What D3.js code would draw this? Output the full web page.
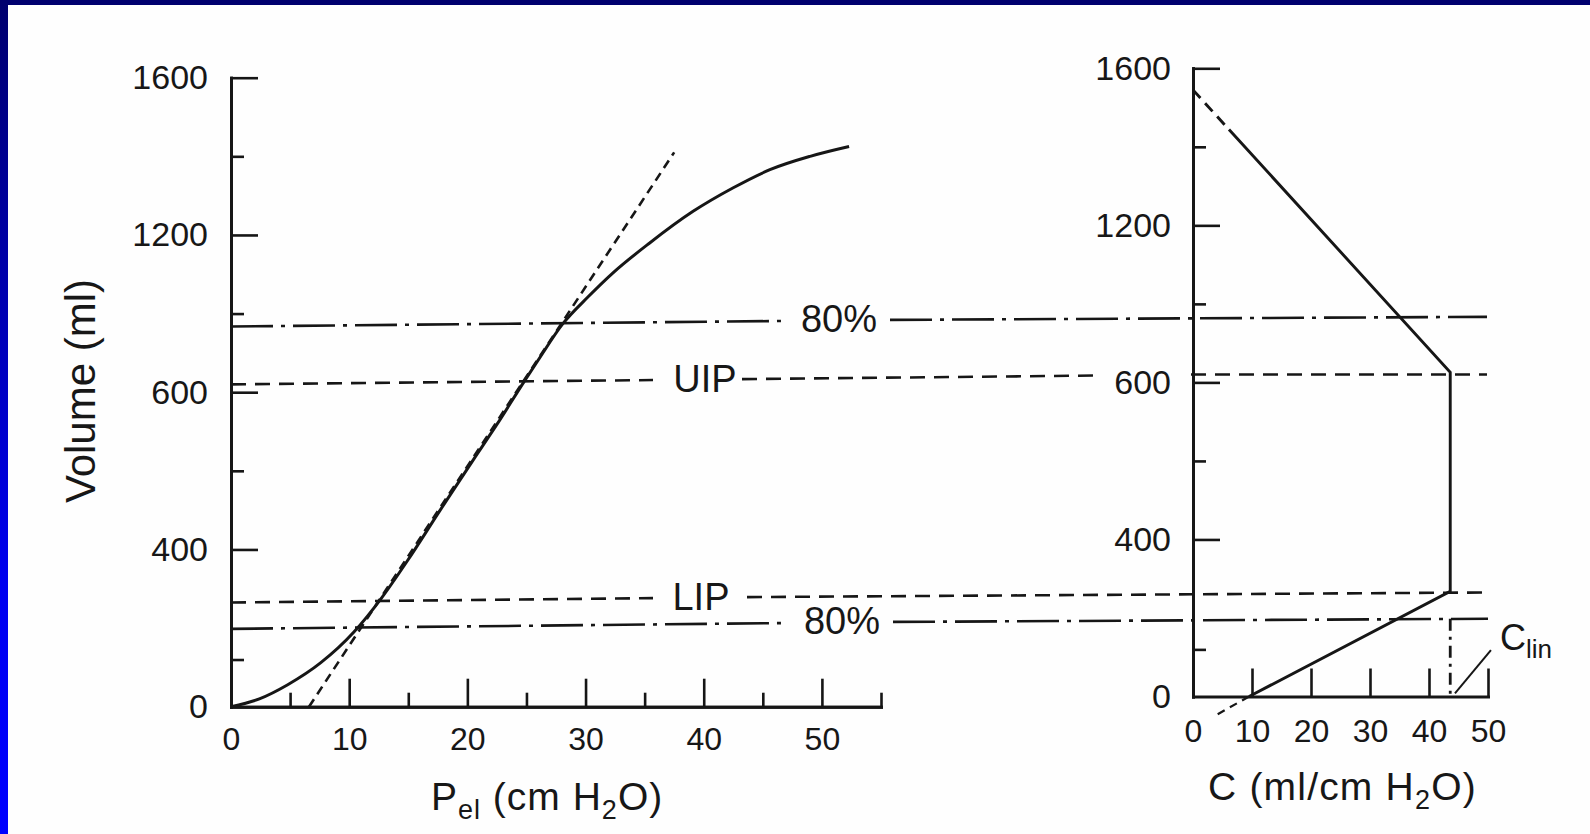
<!DOCTYPE html>
<html>
<head>
<meta charset="utf-8">
<script src="https://cdn.jsdelivr.net/npm/d3@7"></script>
<style>
  html, body { margin: 0; padding: 0; background: #000080; }
  svg { display: block; }
  text { font-family: "Liberation Sans", Arial, sans-serif; fill: #171717; }
</style>
</head>
<body>
<svg id="chart" width="1590" height="834"></svg>
<script>
// left panel: pressure-volume curve (P el, cm H2O -> volume, ml)
var pelValues = [0, 2.4, 4.8, 7.6, 10.4, 12.7, 14.9, 17.7, 20.5, 22.5, 24.8, 26, 28.1, 30.2, 32.3, 35.4, 39.1, 42.5, 45.6, 49, 52.3];
var volValues = [0, 20, 56, 112, 190, 275, 370, 500, 628, 718, 827, 882, 975, 1042, 1103, 1179, 1260, 1320, 1366, 1400, 1425];

// dashed tangent over the linear part
var tangentPel = [6.6, 37.5];
var tangentVol = [0, 1410];

// right panel: compliance profile (C, ml/cm H2O -> volume)
var compC   = [6.1, 43.6, 43.6, 9.5];
var compVol = [1444, 826, 268, 0];
var compTopC = [0, 6.1],  compTopVol = [1545, 1444];   // dashed extrapolation
var compBotC = [9.5, 3.6], compBotVol = [0, -50];
var clinValue = 43.6;

// horizontal reference levels
var refNames   = ["80%", "UIP", "LIP", "80%"];
var refVolumes = [967, 820, 265, 198];
var refDashed  = ["dashdot", "dash", "dash", "dashdot"];

// tick values / labels (as printed)
var volMajor  = [0, 400, 800, 1200, 1600];
var volLabels = ["0", "400", "600", "1200", "1600"];
var volMinor  = [120, 600, 1000, 1400];
var pelMajor  = [10, 20, 30, 40, 50];
var pelMinor  = [5, 15, 25, 35, 45, 55];
var pelLabels = [0, 10, 20, 30, 40, 50];
var compMajor = [10, 20, 30, 40, 50];
var compLabels = [0, 10, 20, 30, 40, 50];

var DASH = "15,9";
var DASHDOT = "42,8,4,8";
var INK = "#161616";

var svg = d3.select("#chart");

// slide frame: blue gradient behind a scanned white page
var defs = svg.append("defs");
var grad = defs.append("linearGradient").attr("id", "bg").attr("x1", 0).attr("y1", 0).attr("x2", 0).attr("y2", 1);
grad.append("stop").attr("offset", "0%").attr("stop-color", "#00006e");
grad.append("stop").attr("offset", "70%").attr("stop-color", "#0000f0");
grad.append("stop").attr("offset", "100%").attr("stop-color", "#0000ff");
svg.append("rect").attr("width", 1590).attr("height", 834).attr("fill", "url(#bg)");
svg.append("rect").attr("x", 8).attr("y", 5).attr("width", 1582).attr("height", 829).attr("fill", "#fefefe");

// scales
var xL = d3.scaleLinear().domain([0, 55]).range([231, 881]);
var yL = d3.scaleLinear().domain([0, 1600]).range([706.7, 77.7]);
var xR = d3.scaleLinear().domain([0, 50]).range([1193, 1488]);
var yR = d3.scaleLinear().domain([0, 1600]).range([696.5, 68.3]);

function styleAxis(g, fontSize) {
  g.select(".domain").attr("stroke", INK).attr("stroke-width", 3).attr("stroke-linecap", "square");
  g.selectAll(".tick line").attr("stroke", INK).attr("stroke-width", 2.6);
  g.selectAll("text").attr("font-size", fontSize).attr("fill", INK)
    .attr("font-family", '"Liberation Sans", Arial, sans-serif');
  g.attr("font-family", null).attr("font-size", null);
}

function drawAxes(xs, ys, xMajor, xMinor, xLabels, xPad, yPad) {
  var x0 = xs.range()[0], y0 = ys.range()[0];

  var ya = svg.append("g").attr("transform", "translate(" + x0 + ",0)")
    .call(d3.axisRight(ys).tickValues(volMajor.slice(1)).tickSize(27).tickSizeOuter(0).tickFormat(""));
  styleAxis(ya, 33);
  var ym = svg.append("g").attr("transform", "translate(" + x0 + ",0)")
    .call(d3.axisRight(ys).tickValues(volMinor).tickSize(13).tickSizeOuter(0).tickFormat(""));
  styleAxis(ym, 33);
  var yl = svg.append("g").attr("transform", "translate(" + x0 + ",0)")
    .call(d3.axisLeft(ys).tickValues(volMajor).tickSize(0).tickPadding(yPad)
      .tickFormat(function (d, i) { return volLabels[i]; }));
  yl.select(".domain").remove();
  styleAxis(yl, 34);

  var xa = svg.append("g").attr("transform", "translate(0," + y0 + ")")
    .call(d3.axisTop(xs).tickValues(xMajor).tickSize(28).tickSizeOuter(0).tickFormat(""));
  styleAxis(xa, 32);
  if (xMinor.length) {
    var xm = svg.append("g").attr("transform", "translate(0," + y0 + ")")
      .call(d3.axisTop(xs).tickValues(xMinor).tickSize(14).tickSizeOuter(0).tickFormat(""));
    styleAxis(xm, 32);
  }
  var xl = svg.append("g").attr("transform", "translate(0," + y0 + ")")
    .call(d3.axisBottom(xs).tickValues(xLabels).tickSize(0).tickPadding(xPad));
  xl.select(".domain").remove();
  styleAxis(xl, 32);
}

drawAxes(xL, yL, pelMajor, pelMinor, pelLabels, 21, 23);
drawAxes(xR, yR, compMajor, [], compLabels, 23, 22);

// reference lines run across both panels (the scan is slightly tilted)
function yAt(v, px) {
  var a = yL(v), b = yR(v);
  if (px <= 231) return a;
  if (px >= 1193) return b;
  return a + (b - a) * (px - 231) / 962;
}
var refSegments = [
  [[231, 787], [890, 1487]],
  [[231, 653], [742, 1098], [1191, 1487]],
  [[231, 653], [747, 1488]],
  [[231, 787], [893, 1488]]
];
var refLabelX = [839, 705, 701, 842];

refVolumes.forEach(function (v, i) {
  var d = refSegments[i].map(function (s) {
    return "M" + s[0] + "," + yAt(v, s[0]) + "L" + s[1] + "," + yAt(v, s[1]);
  }).join("");
  svg.append("path").attr("d", d).attr("fill", "none").attr("stroke", INK)
    .attr("stroke-width", 2.6)
    .attr("stroke-dasharray", refDashed[i] === "dash" ? DASH : DASHDOT);
  svg.append("text").attr("x", refLabelX[i]).attr("y", yAt(v, refLabelX[i]) + 12)
    .attr("text-anchor", "middle").attr("font-size", 38).text(refNames[i]);
});

// C lin marker: dash-dot drop from the lower 80% level to the axis
svg.append("path")
  .attr("d", "M" + xR(clinValue) + "," + yR(refVolumes[3]) + "V" + yR(0))
  .attr("stroke", INK).attr("stroke-width", 2.8).attr("stroke-dasharray", "12,6,3,6");

// left panel curves
var lineL = d3.line().x(function (d) { return xL(d[0]); }).y(function (d) { return yL(d[1]); });
svg.append("path")
  .datum(d3.zip(pelValues, volValues))
  .attr("d", lineL.curve(d3.curveMonotoneX))
  .attr("fill", "none").attr("stroke", INK).attr("stroke-width", 3);
svg.append("path")
  .datum(d3.zip(tangentPel, tangentVol))
  .attr("d", d3.line().x(function (d) { return xL(d[0]); }).y(function (d) { return yL(d[1]); }))
  .attr("fill", "none").attr("stroke", INK).attr("stroke-width", 2.6).attr("stroke-dasharray", "9,6");

// right panel profile
var lineR = d3.line().x(function (d) { return xR(d[0]); }).y(function (d) { return yR(d[1]); });
svg.append("path").datum(d3.zip(compC, compVol)).attr("d", lineR)
  .attr("fill", "none").attr("stroke", INK).attr("stroke-width", 2.9);
svg.append("path").datum(d3.zip(compTopC, compTopVol)).attr("d", lineR)
  .attr("fill", "none").attr("stroke", INK).attr("stroke-width", 2.9).attr("stroke-dasharray", "11,7");
svg.append("path").datum(d3.zip(compBotC, compBotVol)).attr("d", lineR)
  .attr("fill", "none").attr("stroke", INK).attr("stroke-width", 2.2).attr("stroke-dasharray", "8,6");

// C lin label with leader
svg.append("line")
  .attr("x1", xR(50.5)).attr("y1", yR(118)).attr("x2", xR(44.4)).attr("y2", yR(8))
  .attr("stroke", INK).attr("stroke-width", 2);
var clin = svg.append("text").attr("x", 1500).attr("y", 650).attr("font-size", 36);
clin.append("tspan").text("C");
clin.append("tspan").attr("font-size", 26).attr("dy", 8).text("lin");

// axis titles
svg.append("text").attr("transform", "translate(95,391) rotate(-90)")
  .attr("text-anchor", "middle").attr("font-size", 42).text("Volume (ml)");

var tx = svg.append("text").attr("x", 431).attr("y", 810).attr("font-size", 39).attr("letter-spacing", 1);
tx.append("tspan").text("P");
tx.append("tspan").attr("font-size", 27).attr("dy", 9).text("el");
tx.append("tspan").attr("dy", -9).text(" (cm H");
tx.append("tspan").attr("font-size", 27).attr("dy", 9).text("2");
tx.append("tspan").attr("dy", -9).text("O)");

var tc = svg.append("text").attr("x", 1208).attr("y", 800).attr("font-size", 39).attr("letter-spacing", 1.2);
tc.append("tspan").text("C (ml/cm H");
tc.append("tspan").attr("font-size", 27).attr("dy", 9).text("2");
tc.append("tspan").attr("dy", -9).text("O)");
</script>
</body>
</html>
